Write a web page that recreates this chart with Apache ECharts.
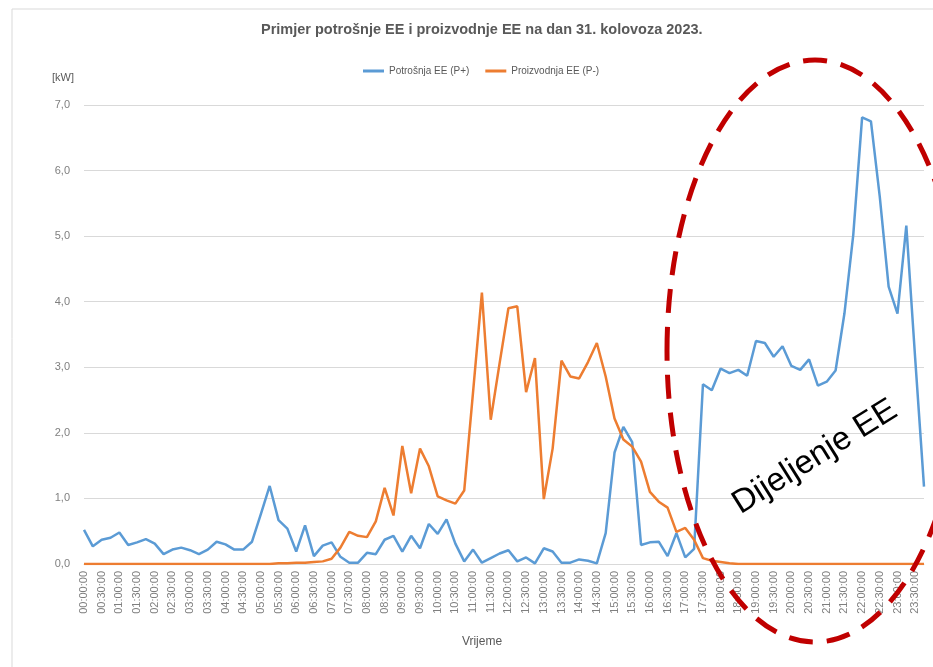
<!DOCTYPE html>
<html>
<head>
<meta charset="utf-8">
<script src="https://cdn.jsdelivr.net/npm/echarts@6/dist/echarts.min.js"></script>
<style>
    html, body { margin: 0; padding: 0; background: #fff; }
    #chart { width: 933px; height: 667px; }
</style>
</head>
<body>
<div id="chart"></div>
<script>
    // 15-minutne vrijednosti, 00:00 - 23:45
    const times = []
    for (let h = 0; h < 24; h++) {
        for (let m = 0; m < 60; m += 15) {
            times.push(String(h).padStart(2, '0') + ':' + String(m).padStart(2, '0') + ':00')
        }
    }

    const potrosnja = [
        0.52, 0.27, 0.37, 0.40, 0.48, 0.29, 0.33, 0.38, 0.31, 0.15, 0.22, 0.25,
        0.21, 0.15, 0.22, 0.34, 0.30, 0.22, 0.22, 0.34, 0.76, 1.19, 0.67, 0.54,
        0.19, 0.59, 0.12, 0.28, 0.33, 0.11, 0.02, 0.02, 0.17, 0.15, 0.37, 0.43,
        0.19, 0.43, 0.24, 0.61, 0.46, 0.68, 0.31, 0.04, 0.22, 0.02, 0.09, 0.16,
        0.21, 0.04, 0.10, 0.01, 0.24, 0.19, 0.02, 0.02, 0.07, 0.05, 0.01, 0.47,
        1.70, 2.09, 1.86, 0.29, 0.33, 0.34, 0.12, 0.47, 0.10, 0.23, 2.74, 2.65,
        2.98, 2.91, 2.96, 2.87, 3.40, 3.37, 3.16, 3.32, 3.02, 2.96, 3.12, 2.72,
        2.78, 2.95, 3.82, 5.02, 6.81, 6.75, 5.60, 4.23, 3.82, 5.16, 3.14, 1.18
    ]

    const proizvodnja = [
        0, 0, 0, 0, 0, 0, 0, 0, 0, 0, 0, 0,
        0, 0, 0, 0, 0, 0, 0, 0, 0, 0, 0.01, 0.01,
        0.02, 0.02, 0.03, 0.04, 0.08, 0.25, 0.49, 0.43, 0.41, 0.65, 1.16, 0.74,
        1.80, 1.08, 1.76, 1.49, 1.03, 0.97, 0.92, 1.12, 2.62, 4.14, 2.20, 3.06,
        3.90, 3.93, 2.62, 3.14, 0.99, 1.76, 3.10, 2.86, 2.83, 3.08, 3.37, 2.86,
        2.22, 1.90, 1.79, 1.56, 1.10, 0.95, 0.86, 0.49, 0.55, 0.37, 0.09, 0.05,
        0.03, 0.01, 0, 0, 0, 0, 0, 0, 0, 0, 0, 0,
        0, 0, 0, 0, 0, 0, 0, 0, 0, 0, 0, 0
    ]

    const font = "'Liberation Sans', Arial, sans-serif"
    const grey = '#595959'

    const chart = echarts.init(document.getElementById('chart'))

    const option = {
        animation: false,
        backgroundColor: '#fff',
        textStyle: { fontFamily: font },
        title: {
            text: 'Primjer potrošnje EE i proizvodnje EE na dan 31. kolovoza 2023.',
            left: 256,
            top: 17,
            textStyle: { fontSize: 14.5, fontWeight: 'bold', color: grey, fontFamily: font }
        },
        legend: {
            left: 358,
            top: 61,
            icon: 'rect',
            itemWidth: 21,
            itemHeight: 3,
            itemGap: 16,
            textStyle: { fontSize: 10, color: grey, fontFamily: font },
            data: ['Potrošnja EE (P+)', 'Proizvodnja EE (P-)']
        },
        grid: { left: 84, right: 9, top: 105, bottom: 103 },
        xAxis: {
            type: 'category',
            data: times,
            boundaryGap: false,
            name: 'Vrijeme',
            nameLocation: 'middle',
            nameGap: 72,
            nameTextStyle: { fontSize: 12, color: grey, padding: [0, 44, 0, 0] },
            axisLine: { lineStyle: { color: '#d9d9d9', width: 1 } },
            axisTick: { show: false },
            axisLabel: {
                interval: 1,
                rotate: 90,
                margin: 7,
                fontSize: 11,
                color: '#7f7f7f'
            },
            splitLine: { show: false }
        },
        yAxis: {
            type: 'value',
            min: 0,
            max: 7,
            interval: 1,
            name: '[kW]',
            nameLocation: 'end',
            nameGap: 27,
            nameTextStyle: { fontSize: 11, color: grey, align: 'right', verticalAlign: 'middle', padding: [0, 10, 0, 0] },
            axisLine: { show: false },
            axisTick: { show: false },
            axisLabel: {
                fontSize: 11,
                color: '#7f7f7f',
                margin: 14,
                formatter: v => v.toFixed(1).replace('.', ',')
            },
            splitLine: { lineStyle: { color: '#d9d9d9', width: 1 } }
        },
        series: [
            {
                name: 'Potrošnja EE (P+)',
                type: 'line',
                data: potrosnja,
                showSymbol: false,
                symbol: 'none',
                color: '#5B9BD5',
                lineStyle: { color: '#5B9BD5', width: 2.5 }
            },
            {
                name: 'Proizvodnja EE (P-)',
                type: 'line',
                data: proizvodnja,
                showSymbol: false,
                symbol: 'none',
                color: '#ED7D31',
                lineStyle: { color: '#ED7D31', width: 2.5 }
            }
        ],
        graphic: [
            {
                type: 'rect',
                silent: true,
                z: -10,
                shape: { x: 12, y: 9, width: 960, height: 700 },
                style: { fill: null, stroke: '#d9d9d9', lineWidth: 1 }
            },
            {
                type: 'ellipse',
                silent: true,
                z: 100,
                shape: { cx: 815, cy: 351, rx: 148, ry: 291 },
                style: { fill: null, stroke: '#C00000', lineWidth: 5, lineDash: [24, 14] }
            },
            {
                type: 'text',
                silent: true,
                z: 100,
                x: 815,
                y: 457,
                rotation: 0.56,
                style: {
                    text: 'Dijeljenje EE',
                    fontSize: 33,
                    fontFamily: font,
                    fill: '#000',
                    align: 'center',
                    verticalAlign: 'middle'
                }
            }
        ]
    }

    chart.setOption(option)
</script>
</body>
</html>
